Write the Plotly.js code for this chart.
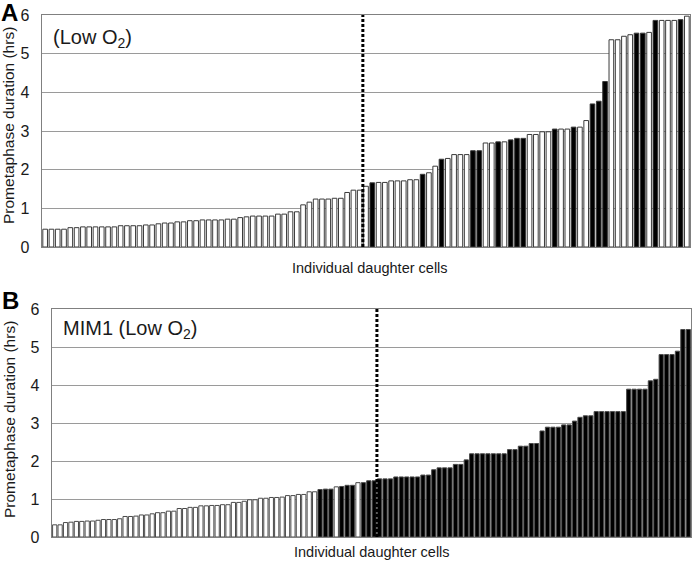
<!DOCTYPE html>
<html>
<head>
<meta charset="utf-8">
<script src="https://cdn.plot.ly/plotly-3.0.1.min.js"></script>
<style>html,body{margin:0;padding:0;background:#fff;}#chart{width:692px;height:564px;}</style>
</head>
<body>
<div id="chart"></div>
<script>
// Panel A: prometaphase duration (hrs), Low O2, sorted
const valuesA = [
  0.46,0.46,0.46,0.46,0.50,0.50,0.52,0.52,0.52,0.52,
  0.52,0.52,0.55,0.55,0.55,0.55,0.57,0.57,0.60,0.62,
  0.62,0.65,0.65,0.68,0.68,0.70,0.70,0.70,0.70,0.72,
  0.72,0.76,0.78,0.80,0.80,0.80,0.80,0.85,0.85,0.91,
  0.91,1.09,1.16,1.24,1.24,1.24,1.26,1.26,1.41,1.47,
  1.47,1.57,1.66,1.67,1.67,1.71,1.71,1.71,1.74,1.74,
  1.88,1.92,2.09,2.27,2.29,2.39,2.39,2.39,2.49,2.49,
  2.69,2.69,2.72,2.72,2.77,2.81,2.81,2.91,2.91,2.98,
  2.98,3.05,3.05,3.05,3.10,3.10,3.27,3.70,3.77,4.28,
  5.36,5.36,5.45,5.49,5.53,5.53,5.55,5.86,5.86,5.86,
  5.86,5.88,5.97
];
// 1 = filled (black) bar, 0 = open (white) bar
const filledA = [
  0,0,0,0,0,0,0,0,0,0,
  0,0,0,0,0,0,0,0,0,0,
  0,0,0,0,0,0,0,0,0,0,
  0,0,0,0,0,0,0,0,0,0,
  0,0,0,0,0,0,0,0,0,0,
  0,0,1,0,0,0,0,0,0,0,
  1,0,0,1,0,0,0,0,1,1,
  0,0,1,0,1,1,1,0,0,0,
  0,1,0,0,1,0,0,1,1,1,
  0,0,0,0,1,1,0,1,0,0,
  0,1,0
];
const dividerA = 51.5;

// Panel B: MIM1 (Low O2), sorted
const valuesB = [
  0.32,0.32,0.38,0.39,0.41,0.41,0.42,0.42,0.44,0.46,
  0.46,0.46,0.48,0.54,0.54,0.55,0.58,0.58,0.61,0.64,
  0.64,0.68,0.68,0.75,0.75,0.78,0.78,0.82,0.82,0.83,
  0.83,0.85,0.85,0.91,0.91,0.94,0.98,0.98,1.02,1.02,
  1.04,1.04,1.05,1.09,1.09,1.12,1.12,1.19,1.19,1.25,
  1.26,1.26,1.32,1.33,1.36,1.36,1.43,1.43,1.48,1.48,
  1.53,1.53,1.53,1.58,1.58,1.58,1.58,1.58,1.63,1.63,
  1.77,1.82,1.82,1.82,1.91,1.91,2.03,2.19,2.19,2.19,
  2.19,2.19,2.19,2.19,2.30,2.30,2.39,2.39,2.46,2.46,
  2.79,2.89,2.89,2.89,2.95,2.95,3.05,3.15,3.19,3.19,
  3.30,3.30,3.30,3.30,3.30,3.30,3.89,3.89,3.89,3.89,
  4.11,4.15,4.80,4.80,4.80,4.89,5.46,5.46
];
const filledB = [
  0,0,0,0,0,0,0,0,0,0,
  0,0,0,0,0,0,0,0,0,0,
  0,0,0,0,0,0,0,0,0,0,
  0,0,0,0,0,0,0,0,0,0,
  0,0,0,0,0,0,0,0,0,1,
  1,1,0,1,1,1,0,1,1,1,
  1,1,1,1,1,1,1,1,1,1,
  1,1,1,1,1,1,1,1,1,1,
  1,1,1,1,1,1,1,1,1,1,
  1,1,1,1,1,1,1,1,1,1,
  1,1,1,1,1,1,1,1,1,1,
  1,1,1,1,1,1,1,1
];
const dividerB = 60.5;

const yTicks = [0,1,2,3,4,5,6];
const yTitle = "Prometaphase duration (hrs)";
const xTitle = "Individual daughter cells";
const labelA = "(Low O<sub>2</sub>)";
const labelB = "MIM1 (Low O<sub>2</sub>)";

const W = 692, H = 564;
const FONT = "Liberation Sans, Arial, Helvetica, sans-serif";

function idx(arr){ return arr.map((_, i) => i + 1); }
function fills(f){ return f.map(v => v ? "#000000" : "#ffffff"); }

const traceA = {
  type: "bar", x: idx(valuesA), y: valuesA, xaxis: "x", yaxis: "y",
  width: 0.74,
  marker: { color: fills(filledA), line: { color: "#3a3a3a", width: 1 } },
  hoverinfo: "y"
};
const traceB = {
  type: "bar", x: idx(valuesB), y: valuesB, xaxis: "x2", yaxis: "y2",
  width: 0.78,
  marker: { color: fills(filledB), line: { color: "#4a4a4a", width: 1 } },
  hoverinfo: "y"
};

function yAxis(domain, anchor){
  return {
    domain: domain, anchor: anchor, range: [0, 6], tickvals: yTicks,
    showgrid: true, gridcolor: "#9a9a9a", gridwidth: 1,
    zeroline: false, showline: true, linecolor: "#808080", linewidth: 1.3, mirror: true,
    ticks: "", ticklabelstandoff: 8,
    tickfont: { family: FONT, size: 16, color: "#1a1a1a" }, fixedrange: true
  };
}
function xAxis(domain, anchor, n){
  return {
    domain: domain, anchor: anchor, range: [0.5, n + 0.5],
    showgrid: false, zeroline: false, showticklabels: false, ticks: "",
    showline: true, linecolor: "#808080", linewidth: 1.3, mirror: true, fixedrange: true
  };
}

const layout = {
  width: W, height: H,
  margin: { l: 0, r: 0, t: 0, b: 0 },
  paper_bgcolor: "#ffffff", plot_bgcolor: "#ffffff",
  showlegend: false,
  xaxis: xAxis([42 / W, 690 / W], "y", valuesA.length),
  yaxis: yAxis([1 - 247 / H, 1 - 15 / H], "x"),
  xaxis2: xAxis([52 / W, 691 / W], "y2", valuesB.length),
  yaxis2: yAxis([1 - 537 / H, 1 - 309 / H], "x2"),
  shapes: [
    { type: "line", xref: "x", yref: "y domain", x0: dividerA, x1: dividerA, y0: 0, y1: 1,
      line: { color: "#000000", width: 3, dash: "3px,2px" } },
    { type: "line", xref: "x2", yref: "y2 domain", x0: dividerB, x1: dividerB, y0: 0, y1: 1,
      line: { color: "#000000", width: 3, dash: "3px,2px" } }
  ],
  annotations: [
    { text: "<b>A</b>", xref: "paper", yref: "paper", x: -1 / W, y: 1 + 3 / H,
      xanchor: "left", yanchor: "top", showarrow: false,
      font: { family: FONT, size: 24, color: "#000" } },
    { text: "<b>B</b>", xref: "paper", yref: "paper", x: 0 / W, y: 1 - 285 / H,
      xanchor: "left", yanchor: "top", showarrow: false,
      font: { family: FONT, size: 24, color: "#000" } },
    { text: labelA, xref: "paper", yref: "paper", x: 51 / W, y: 1 - 38 / H,
      xanchor: "left", yanchor: "middle", showarrow: false,
      font: { family: FONT, size: 20, color: "#1a1a1a" } },
    { text: labelB, xref: "paper", yref: "paper", x: 61 / W, y: 1 - 329 / H,
      xanchor: "left", yanchor: "middle", showarrow: false,
      font: { family: FONT, size: 20, color: "#1a1a1a" } },
    { text: yTitle, xref: "paper", yref: "paper", x: 9 / W, y: 1 - 126 / H,
      xanchor: "center", yanchor: "middle", textangle: -90, showarrow: false,
      font: { family: FONT, size: 15.5, color: "#1a1a1a" } },
    { text: yTitle, xref: "paper", yref: "paper", x: 9 / W, y: 1 - 420 / H,
      xanchor: "center", yanchor: "middle", textangle: -90, showarrow: false,
      font: { family: FONT, size: 15.5, color: "#1a1a1a" } },
    { text: xTitle, xref: "paper", yref: "paper", x: 370 / W, y: 1 - 268 / H,
      xanchor: "center", yanchor: "middle", showarrow: false,
      font: { family: FONT, size: 14.5, color: "#1a1a1a" } },
    { text: xTitle, xref: "paper", yref: "paper", x: 372 / W, y: 1 - 552 / H,
      xanchor: "center", yanchor: "middle", showarrow: false,
      font: { family: FONT, size: 14.5, color: "#1a1a1a" } }
  ]
};

Plotly.newPlot("chart", [traceA, traceB], layout, { staticPlot: true, displayModeBar: false });
</script>
</body>
</html>
